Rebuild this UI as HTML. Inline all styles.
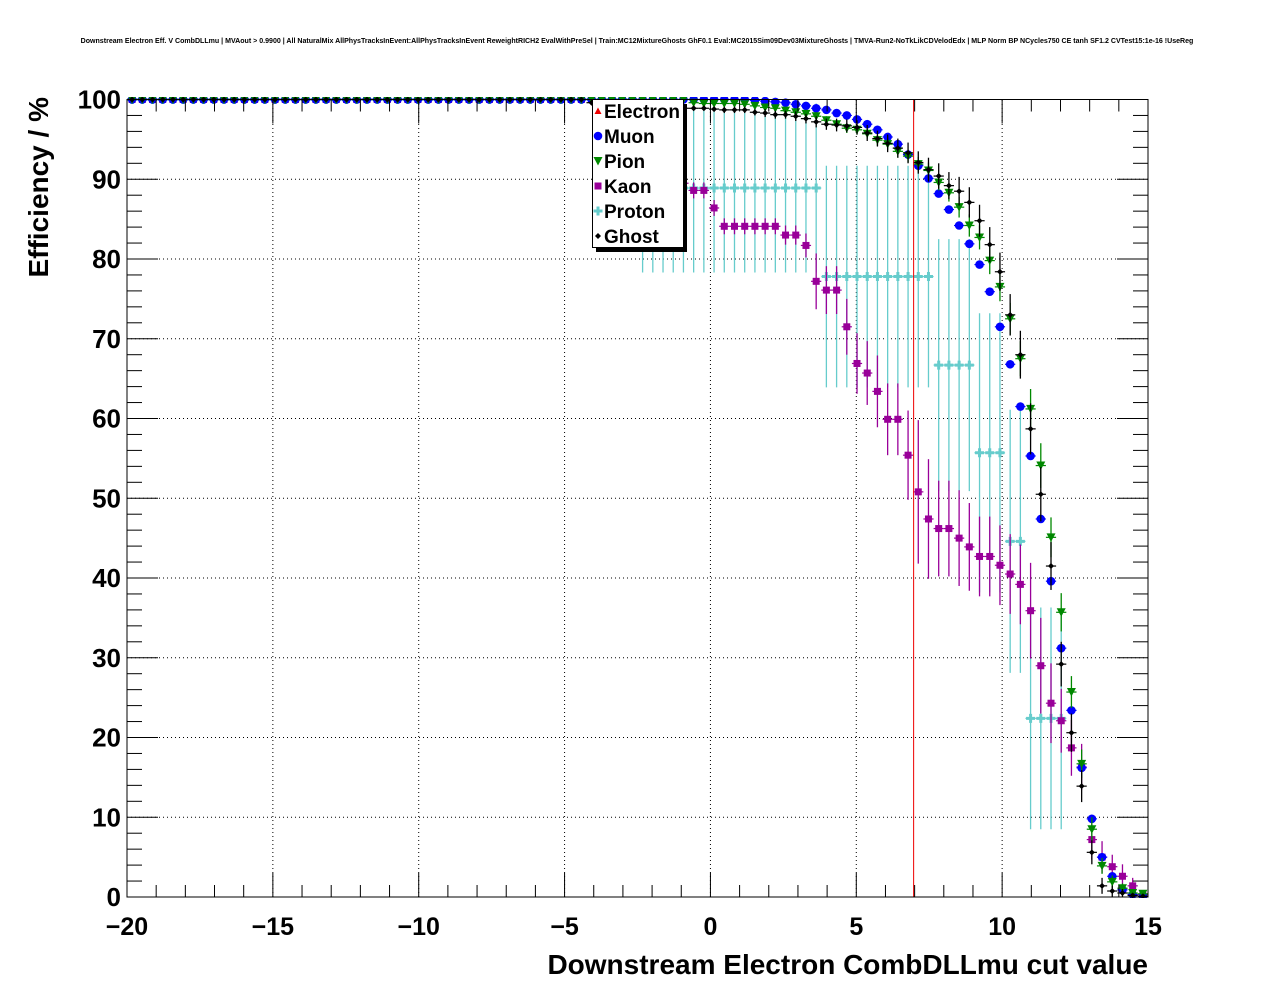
<!DOCTYPE html>
<html><head><meta charset="utf-8"><style>
html,body{margin:0;padding:0;background:#fff;}
svg{display:block;font-family:"Liberation Sans",sans-serif;}
</style></head><body>
<svg id="chart" width="1276" height="996" viewBox="0 0 1276 996" xmlns="http://www.w3.org/2000/svg">
<rect x="0" y="0" width="1276" height="996" fill="#fff"/>
<text x="637" y="43" font-size="7.05" font-weight="bold" text-anchor="middle">Downstream Electron Eff. V CombDLLmu | MVAout &gt; 0.9900 | All NaturalMix AllPhysTracksInEvent:AllPhysTracksInEvent ReweightRICH2 EvalWithPreSel | Train:MC12MixtureGhosts GhF0.1 Eval:MC2015Sim09Dev03MixtureGhosts | TMVA-Run2-NoTkLikCDVelodEdx | MLP Norm BP NCycles750 CE tanh SF1.2 CVTest15:1e-16 !UseReg</text>
<defs><clipPath id="plotclip"><rect x="127" y="97" width="1022" height="801"/></clipPath></defs>
<g id="grid"></g>
<g id="marks" clip-path="url(#plotclip)"></g>
<g id="axes"></g>
<text x="1148" y="974" font-size="28" font-weight="bold" text-anchor="end">Downstream Electron CombDLLmu cut value</text>
<text transform="translate(48,97) rotate(-90)" font-size="28" font-weight="bold" text-anchor="end">Efficiency / %</text>
<g id="legend"></g>
</svg>
<script>
const xTicks = [-20,-15,-10,-5,0,5,10,15];
const xTickLabels = ["\u221220","\u221215","\u221210","\u22125","0","5","10","15"];
const yTicks = [0,10,20,30,40,50,60,70,80,90,100];
const yTickLabels = ["0","10","20","30","40","50","60","70","80","90","100"];
const binLow = -20, binWidth = 0.35, nBins = 100;
const cutValue = 7;
const seriesNames = ["Electron","Muon","Pion","Kaon","Proton","Ghost"];

const muon = [
100,100,100,100,100,100,100,100,100,100,
100,100,100,100,100,100,100,100,100,100,
100,100,100,100,100,100,100,100,100,100,
100,100,100,100,100,100,100,100,100,100,
100,100,100,100,100,100,100,100,100,100,
100,100,100,100,100,100,100,100,100,100,
100,99.9,99.8,99.7,99.6,99.4,99.2,98.9,98.7,98.3,
98.0,97.5,96.9,96.2,95.3,94.4,93.1,91.7,90.1,88.2,
86.2,84.2,81.9,79.3,75.9,71.5,66.8,61.5,55.3,47.4,
39.6,31.2,23.4,16.2,9.8,5.0,2.6,0.9,0.3,0.1];
const pion = [
100,100,100,100,100,100,100,100,100,100,
100,100,100,100,100,100,100,100,100,100,
100,100,100,100,100,100,100,100,100,100,
100,100,100,100,100,100,100,100,100,100,
100,100,100,100,100,100,100,100,100,100,
100,100,100,100,100,99.6,99.5,99.5,99.5,99.5,
99.4,99.2,99.0,98.9,98.6,98.4,98.2,97.9,97.4,96.9,
96.4,96.2,95.7,94.9,94.4,93.5,92.9,91.9,91.1,89.6,
88.3,86.5,84.2,82.7,79.8,76.5,72.5,67.5,61.2,54.1,
45.1,35.7,25.7,16.7,8.5,3.9,1.9,1.1,0.5,0.4];
const pionErr = [
0,0,0,0,0,0,0,0,0,0, 0,0,0,0,0,0,0,0,0,0, 0,0,0,0,0,0,0,0,0,0,
0,0,0,0,0,0,0,0,0,0, 0,0,0,0,0,0,0,0,0,0,
0,0,0,0,0,0.3,0.3,0.3,0.3,0.3,
0.3,0.3,0.3,0.4,0.4,0.4,0.5,0.5,0.5,0.5,
0.6,0.6,0.6,0.7,0.7,0.8,0.8,0.9,1.0,1.0,
1.1,1.3,1.4,1.5,1.7,1.8,2.0,2.2,2.5,2.8,
2.5,2.4,2.0,1.8,1.5,1.0,0.8,0.6,0.5,0.4];
const kaon = [
100,100,100,100,100,100,100,100,100,100,
100,100,100,100,100,100,100,100,100,100,
100,100,100,100,100,100,100,100,100,100,
100,100,100,100,100,100,100,100,100,100,
100,100,100,100,100,100,100,100,100,100,
100,97,94,91,89.5,88.6,88.6,86.4,84.1,84.1,
84.1,84.1,84.1,84.1,83.0,83.0,81.7,77.2,76.1,76.1,
71.5,66.9,65.7,63.4,59.9,59.9,55.4,50.8,47.4,46.2,
46.2,45.0,43.9,42.7,42.7,41.6,40.5,39.2,35.9,29.0,
24.3,22.1,18.7,16.3,7.2,5.0,3.8,2.6,1.4,0.3];
const kaonErr = [
0,0,0,0,0,0,0,0,0,0, 0,0,0,0,0,0,0,0,0,0, 0,0,0,0,0,0,0,0,0,0,
0,0,0,0,0,0,0,0,0,0, 0,0,0,0,0,0,0,0,0,0,
0,1,1,1,1,1,1,1,1,1,
1,1,1,1,1.2,1.2,1.5,3.5,3,3,
3.5,3.8,4,4.5,4.5,4.5,5.6,9,7.5,6,
6,6,5.5,5,5,5,5,5,6,6,
5,4,3.5,2.9,2.5,2,1.5,1.5,1,0.5];
const proton = [
100,100,100,100,100,100,100,100,100,100,
100,100,100,100,100,100,100,100,100,100,
100,100,100,100,100,100,100,100,100,100,
100,100,100,100,100,100,100,100,100,100,
100,100,100,100,100,100,100,100,100,100,
88.9,88.9,88.9,88.9,88.9,88.9,88.9,88.9,88.9,88.9,
88.9,88.9,88.9,88.9,88.9,88.9,88.9,88.9,77.8,77.8,
77.8,77.8,77.8,77.8,77.8,77.8,77.8,77.8,77.8,66.7,
66.7,66.7,66.7,55.7,55.7,55.7,44.6,44.6,22.4,22.4,
22.4,22.4,null,null,null,null,null,null,null,null];
const protonErr = [
0,0,0,0,0,0,0,0,0,0, 0,0,0,0,0,0,0,0,0,0, 0,0,0,0,0,0,0,0,0,0,
0,0,0,0,0,0,0,0,0,0, 0,0,0,0,0,0,0,0,0,0,
10.6,10.6,10.6,10.6,10.6,10.6,10.6,10.6,10.6,10.6,
10.6,10.6,10.6,10.6,10.6,10.6,10.6,10.6,13.9,13.9,
13.9,13.9,13.9,13.9,13.9,13.9,13.9,13.9,13.9,15.8,
15.8,15.8,15.8,17.5,17.5,17.5,16.5,16.5,13.9,13.9,
13.9,13.9,0,0,0,0,0,0,0,0];
const ghost = [
100,100,100,100,100,100,100,100,100,100,
100,100,100,100,100,100,100,100,100,100,
100,100,100,100,100,100,100,100,100,100,
100,100,100,100,100,100,100,100,100,100,
100,100,100,100,100,99.6,99.5,99.4,99.3,99.2,
99.1,99.0,99.0,98.9,98.9,98.9,98.9,98.8,98.7,98.7,
98.7,98.4,98.3,98.1,98.1,97.9,97.6,97.2,96.9,96.8,
96.7,96.5,95.8,95.1,94.5,93.9,93.3,92.1,91.2,90.4,
89.2,88.5,87.1,84.8,81.8,78.4,73.0,68.0,58.7,50.5,
41.5,29.2,20.6,13.9,5.6,1.4,0.75,0.5,0.2,0.1];
const ghostErr = [
0,0,0,0,0,0,0,0,0,0, 0,0,0,0,0,0,0,0,0,0, 0,0,0,0,0,0,0,0,0,0,
0,0,0,0,0,0,0,0,0,0, 0,0,0,0,0,0.3,0.3,0.3,0.3,0.3,
0.3,0.3,0.3,0.3,0.3,0.3,0.3,0.3,0.4,0.4,
0.4,0.4,0.5,0.5,0.5,0.6,0.6,0.7,0.7,0.8,
0.8,0.9,1.0,1.0,1.1,1.2,1.3,1.4,1.5,1.6,
1.7,1.8,1.9,2.0,2.2,2.4,2.6,3.0,3.2,3.4,
3.0,2.8,2.4,2.0,1.5,1.0,0.7,0.5,0.3,0.2];

const X0 = 127, X1 = 1148, Y0 = 897, Y1 = 99.5;
function xs(v){ return X0 + (v - (-20)) / 35 * (X1 - X0); }
function ys(v){ return Y0 - v / 100 * (Y0 - Y1); }
const NS = "http://www.w3.org/2000/svg";
function mk(tag, attrs, parent){ const e = document.createElementNS(NS, tag); for (const k in attrs) e.setAttribute(k, attrs[k]); parent.appendChild(e); return e; }

const grid = document.getElementById('grid');
const axes = document.getElementById('axes');
const marks = document.getElementById('marks');
const legend = document.getElementById('legend');

xTicks.forEach(function(t){
  if (t === -20 || t === 15) return;
  const l = mk('line', {x1: xs(t), x2: xs(t), y1: Y0, y2: Y1, stroke: '#000', 'stroke-width': 1, 'stroke-dasharray': '1,3'}, grid);
  
  
});
yTicks.forEach(function(t){
  if (t === 0 || t === 100) return;
  const l = mk('line', {x1: X0, x2: X1, y1: ys(t), y2: ys(t), stroke: '#000', 'stroke-width': 1, 'stroke-dasharray': '1,3'}, grid);
  
  
});

const frame = mk('rect', {x: X0, y: Y1, width: X1 - X0, height: Y0 - Y1, fill: 'none', stroke: '#000', 'stroke-width': 1}, axes);



for (let v = -20; v <= 15; v++) {
  const major = (v % 5 === 0);
  const len = major ? 24 : 12;
  const b = mk('line', {x1: xs(v), x2: xs(v), y1: Y0, y2: Y0 - len, stroke: '#000', 'stroke-width': 1}, axes);
  
  
  const t = mk('line', {x1: xs(v), x2: xs(v), y1: Y1, y2: Y1 + len, stroke: '#000', 'stroke-width': 1}, axes);
  
  
}
xTicks.forEach(function(t, i){
  const tx = mk('text', {x: xs(t), y: 935, 'font-size': 25, 'font-weight': 'bold', 'text-anchor': 'middle'}, axes);
  tx.textContent = xTickLabels[i];
  
  
});
for (let v = 0; v <= 100; v += 2) {
  const major = (v % 10 === 0);
  const len = major ? 31 : 15;
  const a = mk('line', {x1: X0, x2: X0 + len, y1: ys(v), y2: ys(v), stroke: '#000', 'stroke-width': 1}, axes);
  
  
  const b = mk('line', {x1: X1, x2: X1 - len, y1: ys(v), y2: ys(v), stroke: '#000', 'stroke-width': 1}, axes);
  
  
}
yTicks.forEach(function(t, i){
  const tx = mk('text', {x: 121, y: ys(t) + 9, 'font-size': 26, 'font-weight': 'bold', 'text-anchor': 'end'}, axes);
  tx.textContent = yTickLabels[i];
  
  
});

function marker(g, type, cx, cy, color) {
  let e;
  if (type === 'circle') e = mk('circle', {cx: cx, cy: cy, r: 4.3, fill: color}, g);
  else if (type === 'tri-down') e = mk('polygon', {points: (cx-4.5)+','+(cy-4)+' '+(cx+4.5)+','+(cy-4)+' '+cx+','+(cy+4.5), fill: color}, g);
  else if (type === 'tri-up') e = mk('polygon', {points: (cx-3.5)+','+(cy+3)+' '+(cx+3.5)+','+(cy+3)+' '+cx+','+(cy-3.5), fill: color}, g);
  else if (type === 'square') e = mk('rect', {x: cx-3.5, y: cy-3.5, width: 7, height: 7, fill: color}, g);
  else if (type === 'cross') e = mk('path', {d: 'M'+(cx-4.5)+' '+(cy-1.5)+'h3v-3h3v3h3v3h-3v3h-3v-3h-3z', fill: color}, g);
  else e = mk('polygon', {points: (cx-3)+','+cy+' '+cx+','+(cy-3)+' '+(cx+3)+','+cy+' '+cx+','+(cy+3), fill: color}, g);
  return e;
}
function drawSeries(name, vals, errs, color, type) {
  const g = mk('g', {}, marks);
  
  
  for (let k = 0; k < vals.length; k++) {
    if (vals[k] === null) continue;
    const c = binLow + binWidth * (k + 0.5);
    const cx = xs(c), cy = ys(vals[k]);
    const hl = mk('line', {x1: xs(c - binWidth/2), x2: xs(c + binWidth/2), y1: cy, y2: cy, stroke: color, 'stroke-width': 1.2}, g);
    
    
    const er = errs ? errs[k] : 0;
    if (er > 0) {
      const vl = mk('line', {x1: cx, x2: cx, y1: ys(vals[k] - er), y2: ys(Math.min(vals[k] + er, 100)), stroke: color, 'stroke-width': 1.3}, g);
      
      
    }
    const m = marker(g, type, cx, cy, color);
    
    
  }
}
drawSeries('proton', proton, protonErr, '#66cccc', 'cross');
drawSeries('kaon', kaon, kaonErr, '#990099', 'square');
drawSeries('muon', muon, null, '#0000ff', 'circle');
drawSeries('pion', pion, pionErr, '#008800', 'tri-down');
drawSeries('ghost', ghost, ghostErr, '#000000', 'diamond');

const cut = mk('line', {x1: xs(cutValue) - 1, x2: xs(cutValue) - 1, y1: Y1, y2: Y0, stroke: '#ee0000', 'stroke-width': 1}, marks);



const sh = mk('rect', {x: 596, y: 104, width: 91, height: 148, fill: '#000'}, legend);


const box = mk('rect', {x: 592.5, y: 99.5, width: 91, height: 148, fill: '#fff', stroke: '#000', 'stroke-width': 1}, legend);


const legendColors = ['#ee0000','#0000ff','#008800','#990099','#66cccc','#000000'];
const legendTypes = ['tri-up','circle','tri-down','square','cross','diamond'];
seriesNames.forEach(function(n, i){
  const g = mk('g', {}, legend);
  
  
  const cy = 111 + 25 * i;
  const m = marker(g, legendTypes[i], 598, cy, legendColors[i]);
  
  
  const t = mk('text', {x: 604, y: cy + 7, 'font-size': 19, 'font-weight': 'bold'}, g);
  t.textContent = n;
  
  
});
</script>
</body></html>
